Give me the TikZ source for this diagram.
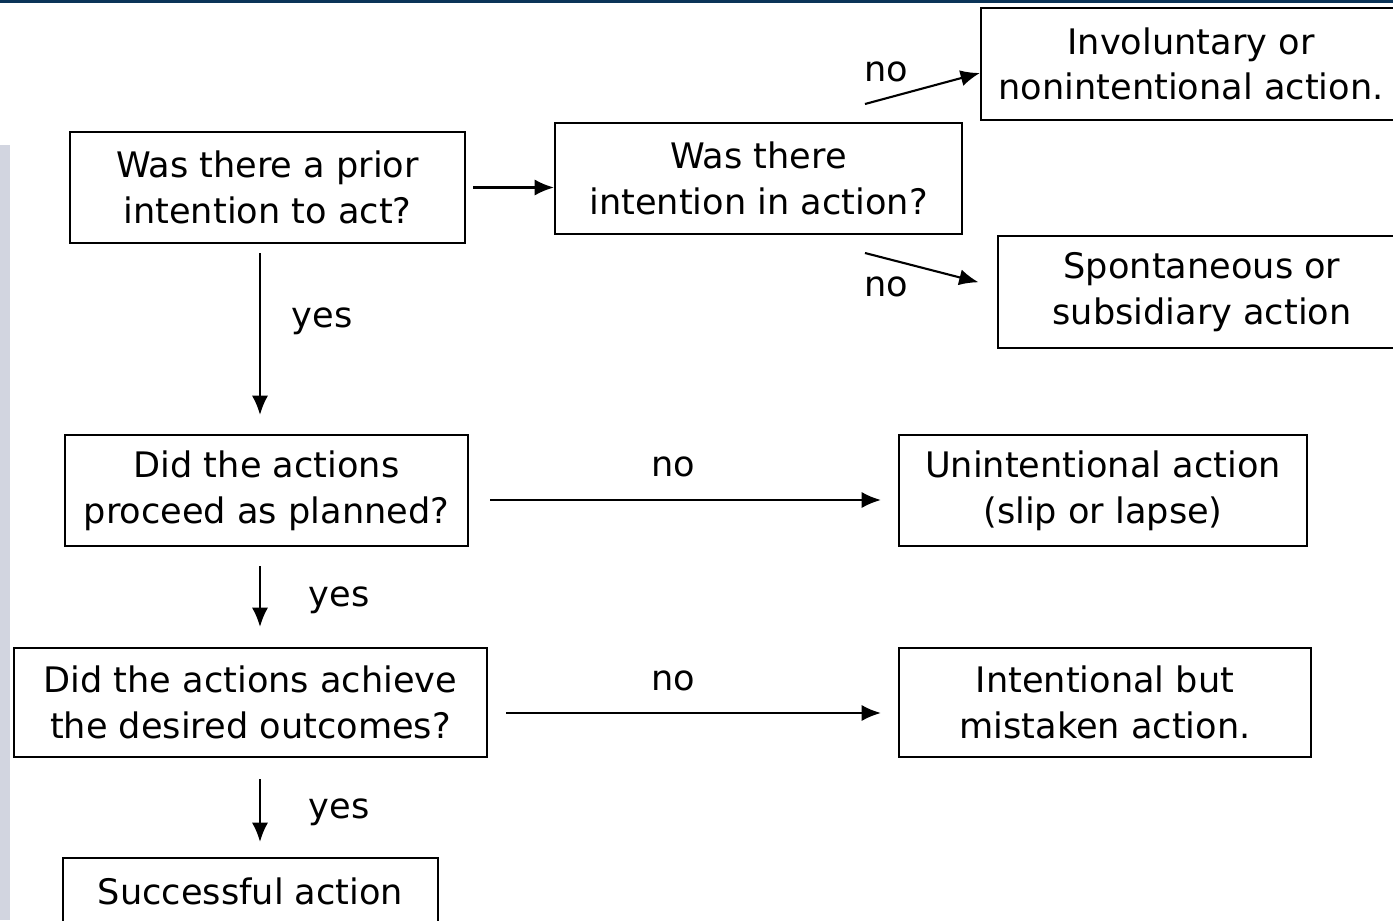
\documentclass[tikz,border=0pt]{standalone}
\usepackage{fontspec}
\setmainfont{DejaVu Sans}
\usetikzlibrary{arrows.meta, positioning}

\definecolor{topbar}{RGB}{11,52,88}
\definecolor{sidebar}{RGB}{210,213,224}

\tikzset{
	qbox/.style={draw, semithick, align=center, inner sep=0pt, font=\fontsize{10}{13}\selectfont},
	lbl/.style={font=\fontsize{10}{13}\selectfont, inner sep=0pt},
	arr/.style={->, >={Latex[length=5.5pt, width=4.6pt]}, semithick}
}

\begin{document}
\begin{tikzpicture}[x=1cm, y=-1cm]
	\useasboundingbox (0, 0) rectangle (13.93, 9.20);
	\clip (0, 0) rectangle (13.93, 9.20);
	\fill[topbar] (0, 0) rectangle (13.93, 0.03);
	\fill[sidebar] (0, 1.45) rectangle (0.10, 9.20);

	% question boxes
	\node[qbox, minimum width=3.95cm, minimum height=1.11cm] (prior) at (2.675, 1.875) {Was there a prior\\intention to act?};
	\node[qbox, minimum width=4.07cm, minimum height=1.11cm] (inaction) at (7.585, 1.785) {Was there\\intention in action?};
	\node[qbox, minimum width=4.03cm, minimum height=1.11cm] (proceed) at (2.665, 4.905) {Did the actions\\proceed as planned?};
	\node[qbox, minimum width=4.73cm, minimum height=1.09cm] (achieve) at (2.505, 7.025) {Did the actions achieve\\the desired outcomes?};

	% outcome boxes
	\node[qbox, minimum width=4.20cm, minimum height=1.12cm] (invol) at (11.91, 0.64) {Involuntary or\\nonintentional action.};
	\node[qbox, minimum width=4.08cm, minimum height=1.12cm] (spont) at (12.02, 2.92) {Spontaneous or\\subsidiary action};
	\node[qbox, minimum width=4.08cm, minimum height=1.11cm] (unint) at (11.03, 4.905) {Unintentional action\\(slip or lapse)};
	\node[qbox, minimum width=4.12cm, minimum height=1.09cm] (intent) at (11.05, 7.025) {Intentional but\\mistaken action.};
	\node[qbox, minimum width=3.75cm, minimum height=0.66cm] (success) at (2.505, 8.91) {Successful action};

	\coordinate (col) at (2.60, 0);
	\coordinate (n1) at (8.65, 1.04);
	\coordinate (n2) at (8.65, 2.53);

	\draw[arr, shorten <=0.07cm] (prior.east) -- (prior.east -| inaction.west);
	\draw[arr] (n1) -- ([yshift=-0.09cm]invol.west);
	\draw[arr, shorten >=0.19cm] (n2) -- ([yshift=0.05cm]spont.west);
	\draw[arr, shorten <=0.09cm, shorten >=0.19cm] (prior.south -| col) -- (proceed.north -| col);
	\draw[arr, shorten <=0.19cm, shorten >=0.20cm] (proceed.south -| col) -- (achieve.north -| col);
	\draw[arr, shorten <=0.21cm, shorten >=0.15cm] (achieve.south -| col) -- (success.north -| col);
	\draw[arr, shorten <=0.21cm, shorten >=0.17cm] ([yshift=-0.095cm]proceed.east) -- ([yshift=-0.095cm]proceed.east -| unint.west);
	\draw[arr, shorten <=0.18cm, shorten >=0.17cm] ([yshift=-0.105cm]achieve.east) -- ([yshift=-0.105cm]achieve.east -| intent.west);

	\node[lbl] (no1) at (8.86, 0.72) {no};
	\node[lbl] (no2) at (8.86, 2.87) {no};
	\node[lbl] (no3) at (6.73, 4.67) {no};
	\node[lbl] (no4) at (6.73, 6.81) {no};
	\node[lbl] (yes1) at (3.22, 3.21) {yes};
	\node[lbl] (yes2) at (3.39, 6.00) {yes};
	\node[lbl] (yes3) at (3.39, 8.12) {yes};
\end{tikzpicture}
\end{document}
